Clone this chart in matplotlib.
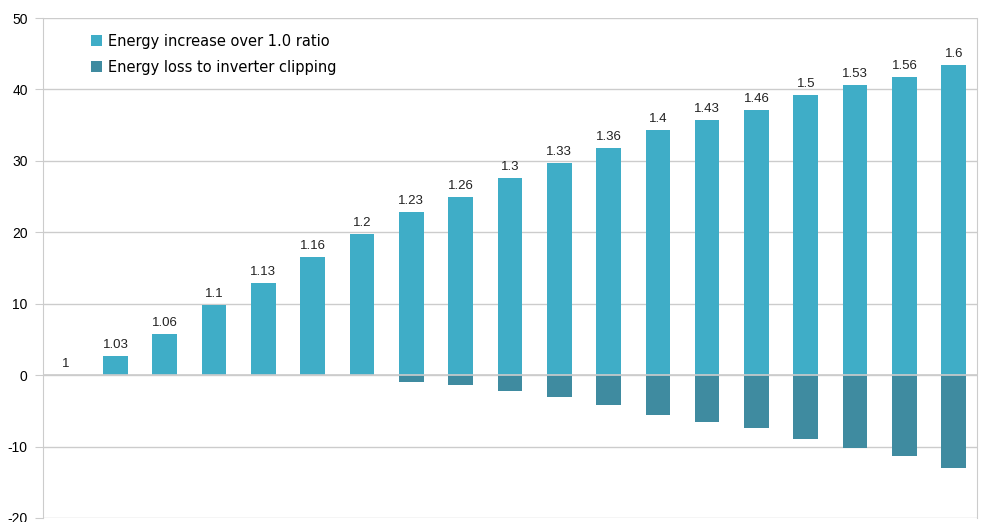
import numpy as np
import matplotlib.pyplot as plt

plt.rcParams["axes.unicode_minus"] = False

# DC/AC ratio categories and energy values (%)
ratios = ["1", "1.03", "1.06", "1.1", "1.13", "1.16", "1.2", "1.23", "1.26", "1.3",
          "1.33", "1.36", "1.4", "1.43", "1.46", "1.5", "1.53", "1.56", "1.6"]
energy_increase = [0, 2.7, 5.7, 9.8, 12.9, 16.5, 19.7, 22.8, 24.9, 27.6,
                   29.7, 31.8, 34.3, 35.7, 37.1, 39.2, 40.6, 41.7, 43.4]
clipping_loss = [0, 0, 0, 0, 0, 0, 0, -1.0, -1.4, -2.2,
                 -3.1, -4.2, -5.6, -6.6, -7.4, -9.0, -10.2, -11.3, -13.0]

c_inc = "#3fadc7"
c_loss = "#3f8ba0"
grid_c = "#cccccc"

fig = plt.figure(figsize=(9.81, 5.22), dpi=100)
ax = fig.add_axes([0.0438, 0.0077, 0.952, 0.9578])

x = np.arange(len(ratios))
ax.bar(x, energy_increase, width=0.5, color=c_inc, zorder=2,
       label="Energy increase over 1.0 ratio")
ax.bar(x, clipping_loss, width=0.5, color=c_loss, zorder=2,
       label="Energy loss to inverter clipping")

# value labels above bars
for xi, v, lab in zip(x, energy_increase, ratios):
    ax.text(xi, v + 0.7, lab, ha="center", va="bottom", fontsize=9.5,
            family="Liberation Sans", color="#222222")

ax.set_ylim(-20, 50)
ax.set_xlim(-0.47, len(ratios) - 0.53)
ax.set_yticks(np.arange(-20, 51, 10))
ax.set_xticks([])
ax.yaxis.grid(True, color=grid_c, linewidth=1, zorder=0)
ax.axhline(0, color=grid_c, linewidth=1.2, zorder=3)
ax.set_axisbelow(True)

for s in ["top", "bottom"]:
    ax.spines[s].set_visible(False)
ax.spines["left"].set_color(grid_c)
ax.spines["right"].set_color(grid_c)
ax.tick_params(axis="y", length=6, color=grid_c, labelsize=10, pad=5)
for t in ax.get_yticklabels():
    t.set_family("Liberation Sans")

ax.legend(loc="upper left", bbox_to_anchor=(0.037, 0.995), frameon=False,
          prop={"family": "DejaVu Sans", "size": 10.5}, handlelength=0.8,
          handleheight=0.8, handletextpad=0.4, labelspacing=0.75)

fig.savefig("out.png", dpi=100)
